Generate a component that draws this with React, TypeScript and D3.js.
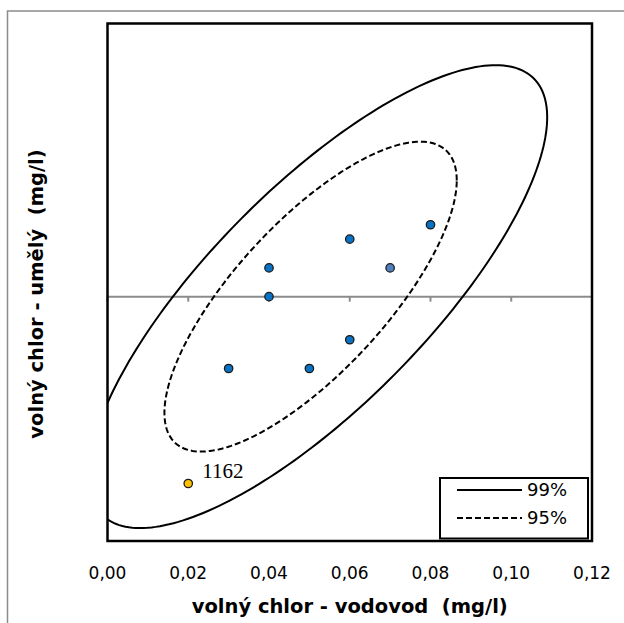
import * as d3 from 'd3'

// x ticks of the horizontal axis
const xTicks = [0, 0.02, 0.04, 0.06, 0.08, 0.1, 0.12]

// samples: vodovod (x) vs. umělý (y)
const sampleX = [0.08, 0.06, 0.04, 0.07, 0.04, 0.06, 0.03, 0.05]
const sampleY = [0.025, 0.02, 0.01, 0.01, 0, -0.015, -0.025, -0.025]

// outlier sample
const outlierX = [0.02]
const outlierY = [-0.065]
const outlierLabel = ['1162']

// confidence ellipses: centre, half extents and correlation
const ellipseNames = ['99%', '95%']
const ellipseCx = [0.0521, 0.0503]
const ellipseCy = [0, 0]
const ellipseSx = [0.0568, 0.0362]
const ellipseSy = [0.0805, 0.0539]
const ellipseR = [0.775, 0.75]

const W = 624
const H = 623
const plot = {left: 107.5, right: 592, top: 23.5, bottom: 541}

export default function App() {
    const x = d3.scaleLinear().domain([0, 0.12]).range([plot.left, plot.right])
    const y = d3.scaleLinear().domain([-0.085, 0.095]).range([plot.bottom, plot.top])

    const fmt = (v: number) => d3.format('.2f')(v).replace('.', ',')

    const line = d3.line<[number, number]>()
        .x(d => x(d[0]))
        .y(d => y(d[1]))
        .curve(d3.curveLinearClosed)

    // build each ellipse outline from its parameters
    const ellipsePath = (i: number) => {
        const pts: [number, number][] = d3.range(0, 240).map(k => {
            const t = (k / 240) * Math.PI * 2
            const r = ellipseR[i]
            return [
                ellipseCx[i] + ellipseSx[i] * Math.cos(t),
                ellipseCy[i] + ellipseSy[i] * (r * Math.cos(t) + Math.sqrt(1 - r * r) * Math.sin(t)),
            ]
        })
        return line(pts) as string
    }

    const font = '"DejaVu Sans", Verdana, sans-serif'
    const legendX = 440
    const legendY = 478
    const dash = '6,3'

    return (
        <svg width={W} height={H} style={{position: 'absolute', left: 0, top: 0, background: '#fff'}}>
            <defs>
                <clipPath id="plotClip">
                    <rect x={plot.left} y={plot.top} width={plot.right - plot.left} height={plot.bottom - plot.top} />
                </clipPath>
            </defs>

            {/* outer chart frame, cropped on the right and bottom */}
            <rect x={7.5} y={11} width={W + 10} height={H + 10} fill="#fff" stroke="#8c8c8c" strokeWidth={1.5} />

            {/* x axis at y = 0 */}
            <line x1={plot.left} x2={plot.right} y1={y(0)} y2={y(0)} stroke="#8c8c8c" strokeWidth={2} />
            {xTicks.map(t => (
                <line key={t} x1={x(t)} x2={x(t)} y1={y(0)} y2={y(0) + 5} stroke="#8c8c8c" strokeWidth={2} />
            ))}

            {/* ellipses */}
            <g clipPath="url(#plotClip)">
                {ellipseNames.map((name, i) => (
                    <path key={name} d={ellipsePath(i)} fill="none" stroke="#000" strokeWidth={2}
                        strokeDasharray={i === 1 ? dash : undefined} />
                ))}
            </g>

            {/* points */}
            {sampleX.map((v, i) => (
                <circle key={i} cx={x(v)} cy={y(sampleY[i])} r={4.2}
                    fill={i === 3 ? '#4f7fbf' : '#0a72c4'} stroke="#1a1a1a" strokeWidth={1.3} />
            ))}
            {outlierX.map((v, i) => (
                <g key={'o' + i}>
                    <circle cx={x(v)} cy={y(outlierY[i])} r={4.2} fill="#ffc000" stroke="#1a1a1a" strokeWidth={1.3} />
                    <text x={x(v) + 14} y={y(outlierY[i]) - 6} fontFamily='"Liberation Serif", serif' fontSize={21}
                        fill="#000">{outlierLabel[i]}</text>
                </g>
            ))}

            {/* plot border */}
            <rect x={plot.left} y={plot.top} width={plot.right - plot.left} height={plot.bottom - plot.top}
                fill="none" stroke="#000" strokeWidth={2.5} />

            {/* legend */}
            <rect x={legendX} y={legendY} width={588 - legendX} height={538.5 - legendY} fill="#fff" stroke="#000" strokeWidth={2} />
            {ellipseNames.map((name, i) => (
                <g key={'l' + name} transform={`translate(0,${legendY + 12 + i * 28})`}>
                    <line x1={457} x2={522} y1={0} y2={0} stroke="#000" strokeWidth={2}
                        strokeDasharray={i === 1 ? dash : undefined} />
                    <text x={527} y={0} dy="0.36em" fontFamily={font} fontSize={18} fill="#000">{name}</text>
                </g>
            ))}

            {/* tick labels */}
            {xTicks.map(t => (
                <text key={'t' + t} x={x(t)} y={579} textAnchor="middle" fontFamily={font} fontSize={17} fill="#000">
                    {fmt(t)}
                </text>
            ))}

            {/* axis titles */}
            <text x={(plot.left + plot.right) / 2} y={613} textAnchor="middle" fontFamily={font} fontSize={19.5}
                fontWeight="bold" fill="#000" style={{whiteSpace: 'pre'}}>
                {'volný chlor - vodovod  (mg/l)'}
            </text>
            <text transform={`translate(43,294) rotate(-90)`} textAnchor="middle" fontFamily={font} fontSize={19.5}
                fontWeight="bold" fill="#000" style={{whiteSpace: 'pre'}}>
                {'volný chlor - umělý  (mg/l)'}
            </text>
        </svg>
    )
}
